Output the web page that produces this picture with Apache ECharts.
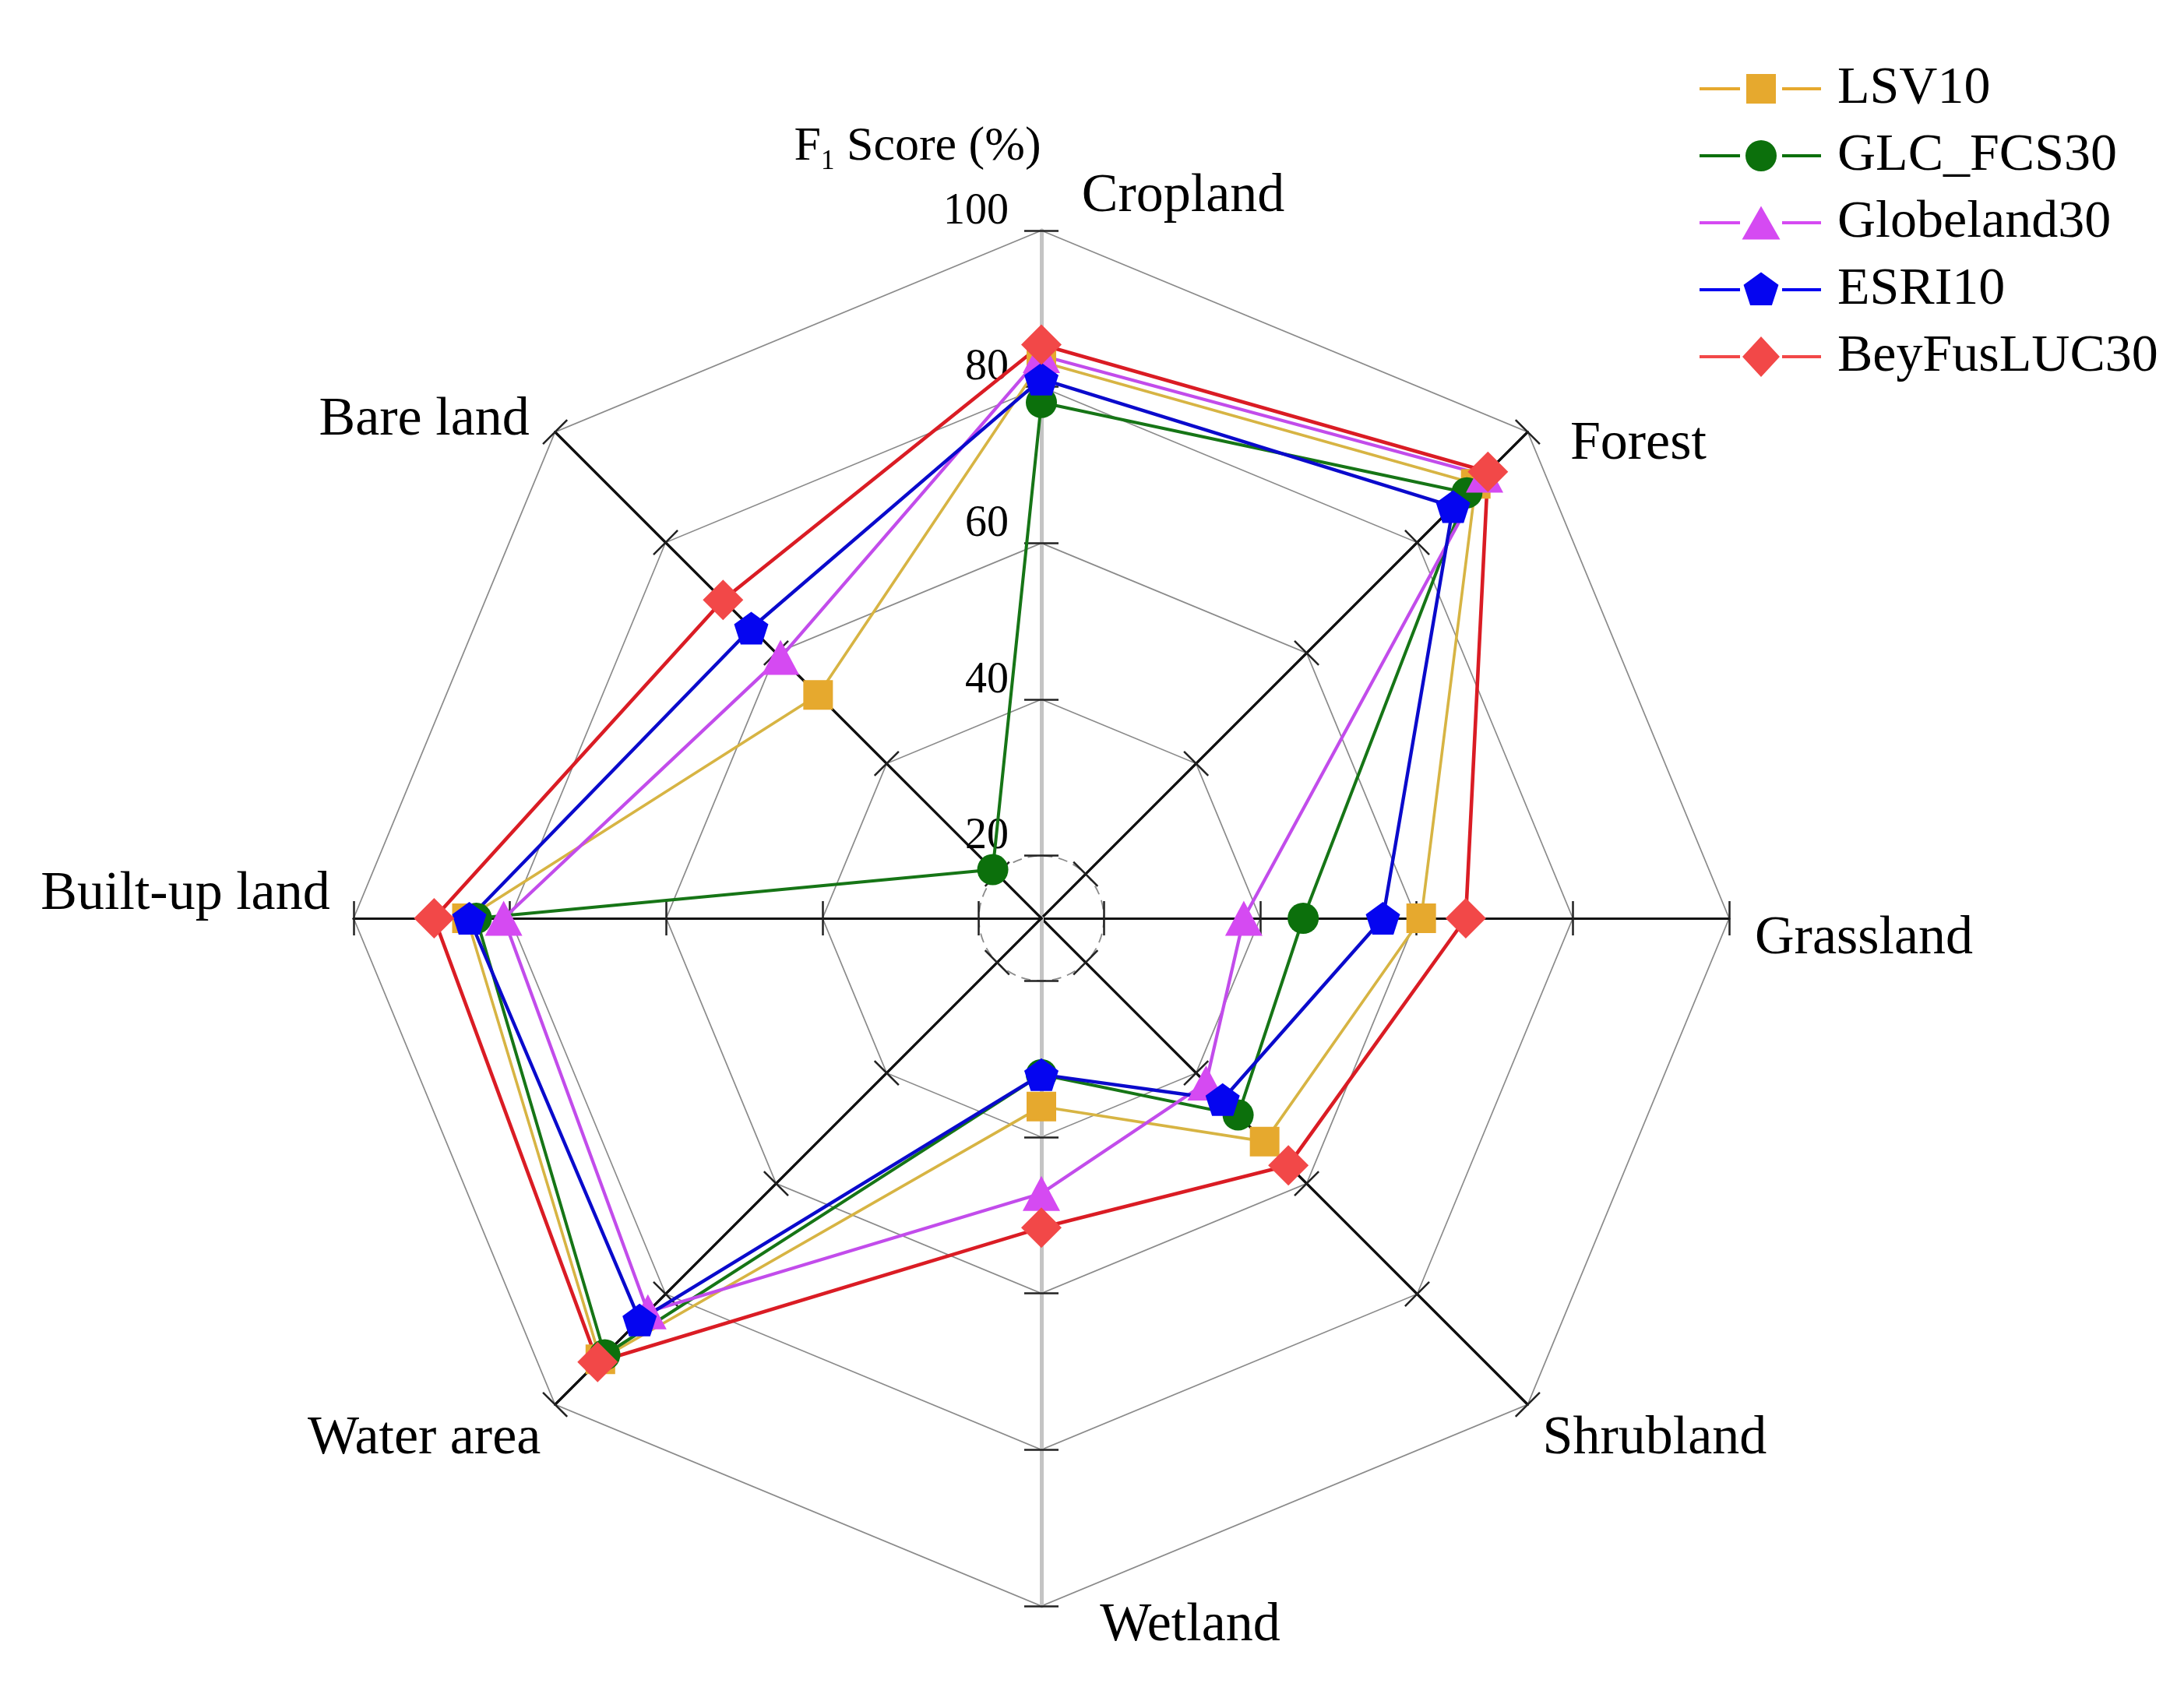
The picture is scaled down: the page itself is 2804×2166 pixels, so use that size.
<!DOCTYPE html>
<html>
<head>
<meta charset="utf-8">
<script src="https://cdn.jsdelivr.net/npm/echarts@6/dist/echarts.min.js"></script>
<style>
html,body{margin:0;padding:0;background:#ffffff;}
#chart{width:2804px;height:2166px;}
</style>
</head>
<body>
<div id="chart"></div>
<script>
// ---------------- data ----------------
const categories = ['Cropland', 'Forest', 'Grassland', 'Shrubland', 'Wetland', 'Water area', 'Built-up land', 'Bare land'];
const seriesNames = ['LSV10', 'GLC_FCS30', 'Globeland30', 'ESRI10', 'BeyFusLUC30'];
const LSV10       = [83.2, 90.6, 60.6, 52.4, 36.1, 91.8, 85.5, 52.4];
const GLC_FCS30   = [78.0, 89.0, 45.5, 47.6, 32.0, 91.0, 84.3, 20.8];
const Globeland30 = [84.0, 92.2, 37.9, 41.8, 47.2, 83.2, 80.8, 59.2];
const ESRI10      = [81.0, 86.5, 55.7, 44.8, 32.0, 84.7, 85.2, 64.5];
const BeyFusLUC30 = [85.4, 92.8, 66.3, 56.7, 51.6, 92.3, 89.7, 69.6];
const tickValues = [20, 40, 60, 80, 100];
const ringValues = [40, 60, 80, 100];   // octagon grid rings
const circleValues = [20];              // dashed circular ring
const axisMin = 12, axisMax = 100;
const axisTitle = '{a|F}{b|1}{a| Score (%)}';

const seriesData = [LSV10, GLC_FCS30, Globeland30, ESRI10, BeyFusLUC30];

// ---------------- layout / style ----------------
const FONT = 'Liberation Serif';
const CX = 1337, CY = 1179, R = 883;
const RING_STEP = 4;
const splitNum = (axisMax - axisMin) / RING_STEP;
// radar goes counter-clockwise, categories are listed clockwise from top
const order = [0, 7, 6, 5, 4, 3, 2, 1];
const toRadar = a => order.map(i => a[i]);

// label offsets (px) from each axis end
const nameOffsets = [[182, -43], [142, 16], [173, 27], [163, 44], [191, 26], [-168, 44], [-216, -30], [-168, -15]];
const titleOffset = [-159, -107];
function pad(dx, dy) { return [dy > 0 ? 2 * dy : 0, dx < 0 ? -2 * dx : 0, dy < 0 ? -2 * dy : 0, dx > 0 ? 2 * dx : 0]; }

const pentagon = 'path://M50,0 L97.55,34.55 L79.39,90.45 L20.61,90.45 L2.45,34.55 Z';
const styles = [
  { symbol: 'rect', size: 38, line: '#D7B443', fill: '#E6A92E', width: 3.6 },
  { symbol: 'circle', size: 40, line: '#167516', fill: '#0C700C', width: 4 },
  { symbol: 'triangle', size: [48, 45], line: '#C24CEB', fill: '#D54AF2', width: 4.2 },
  { symbol: pentagon, size: [44, 42], line: '#0A0ACC', fill: '#0505F0', width: 4.4 },
  { symbol: 'diamond', size: 52, line: '#DA1C24', fill: '#F24848', width: 4.6 }
];
const lineBars = 'M0,0 M156,52 M0,24 L52,24 L52,28 L0,28 Z M106,24 L156,24 L156,28 L106,28 Z ';
const legendIcons = [
  'path://' + lineBars + 'M60,7 L98,7 L98,45 L60,45 Z',
  'path://' + lineBars + 'M59,26 A20,20 0 1,0 99,26 A20,20 0 1,0 59,26 Z',
  'path://' + lineBars + 'M79,4.5 L103.5,47.5 L54.5,47.5 Z',
  'path://' + lineBars + 'M79,3.4 L101.45,19.7 L92.9,46.1 L65.1,46.1 L56.55,19.7 Z',
  'path://' + lineBars + 'M79,0 L103,26 L79,52 L55,26 Z'
];

const ringColorsFor = vals => Array.from({ length: splitNum + 1 }, (_, k) =>
  vals.indexOf(axisMin + k * RING_STEP) >= 0 ? '#8a8a8a' : 'rgba(0,0,0,0)');

const indicator = toRadar(categories).map(c => ({ name: c, min: axisMin, max: axisMax }));
const radarBase = {
  center: [CX, CY], radius: R, startAngle: 90, splitNumber: splitNum,
  indicator: indicator,
  axisName: { show: false },
  axisLine: { show: false }, axisTick: { show: false }, axisLabel: { show: false },
  splitArea: { show: false }
};
const radar = [
  Object.assign({}, radarBase, { shape: 'polygon', splitLine: { show: true, lineStyle: { color: ringColorsFor(ringValues), width: 1.7 } } }),
  Object.assign({}, radarBase, { shape: 'circle', splitLine: { show: true, lineStyle: { color: ringColorsFor(circleValues), width: 1.8, type: [12, 8] } } })
];

// spokes with ticks / labels / names via polar radius axes (two per spoke: ticks on both sides)
const polar = [], angleAxis = [], radiusAxis = [];
categories.forEach((cat, i) => {
  const ang = 90 - 45 * i;
  const vertical = (i === 0 || i === 4);
  [0, 1].forEach(side => {
    const k = polar.length;
    polar.push({ center: [CX, CY], radius: R });
    angleAxis.push({ polarIndex: k, type: 'value', min: 0, max: 360, startAngle: ang, show: false });
    const ra = {
      polarIndex: k, type: 'value', min: axisMin, max: axisMax,
      axisLine: { show: true, lineStyle: { color: vertical ? '#c4c4c4' : '#111111', width: vertical ? 5 : 3 } },
      axisTick: { show: true, length: side === 0 ? 22 : -22, customValues: tickValues, lineStyle: { color: '#222222', width: 2.5 } },
      axisLabel: {
        show: side === 0 && i === 0, customValues: tickValues, margin: 42,
        formatter: v => '{t|' + v + '}',
        verticalAlign: 'middle', padding: [0, 0, 48, 0],
        rich: { t: { fontFamily: FONT, fontSize: 56, color: '#000' } }
      },
      splitLine: { show: false }, splitArea: { show: false },
      nameLocation: 'end', nameGap: 0
    };
    if (side === 0) {
      ra.name = '{n|' + cat + '}';
      ra.nameTextStyle = {
        align: 'center', verticalAlign: 'middle', padding: pad(nameOffsets[i][0], nameOffsets[i][1]),
        rich: { n: { fontFamily: FONT, fontSize: 70, color: '#000' } }
      };
    } else if (i === 0) {
      ra.name = axisTitle;
      ra.nameTextStyle = {
        align: 'center', verticalAlign: 'middle', padding: pad(titleOffset[0], titleOffset[1]),
        rich: {
          a: { fontFamily: FONT, fontSize: 62, color: '#000', lineHeight: 72 },
          b: { fontFamily: FONT, fontSize: 35, color: '#000', lineHeight: 32, verticalAlign: 'bottom' }
        }
      };
    }
    radiusAxis.push(ra);
  });
});

const series = seriesNames.map((n, j) => ({
  type: 'radar', radarIndex: 0, name: n,
  symbol: styles[j].symbol, symbolSize: styles[j].size,
  lineStyle: { color: styles[j].line, width: styles[j].width },
  itemStyle: { color: styles[j].fill },
  data: [{ name: n, value: toRadar(seriesData[j]) }]
}));

const chart = echarts.init(document.getElementById('chart'), null, { renderer: 'canvas' });
chart.setOption({
  backgroundColor: '#ffffff',
  animation: false,
  legend: {
    orient: 'vertical', left: 2177, top: 75, itemWidth: 156, itemHeight: 52, itemGap: 18,
    selectedMode: false,
    textStyle: { fontFamily: FONT, fontSize: 68, color: '#000', padding: [0, 0, 0, 16] },
    data: seriesNames.map((n, j) => ({ name: n, icon: legendIcons[j] }))
  },
  radar: radar,
  polar: polar,
  angleAxis: angleAxis,
  radiusAxis: radiusAxis,
  series: series
});
</script>
</body>
</html>
